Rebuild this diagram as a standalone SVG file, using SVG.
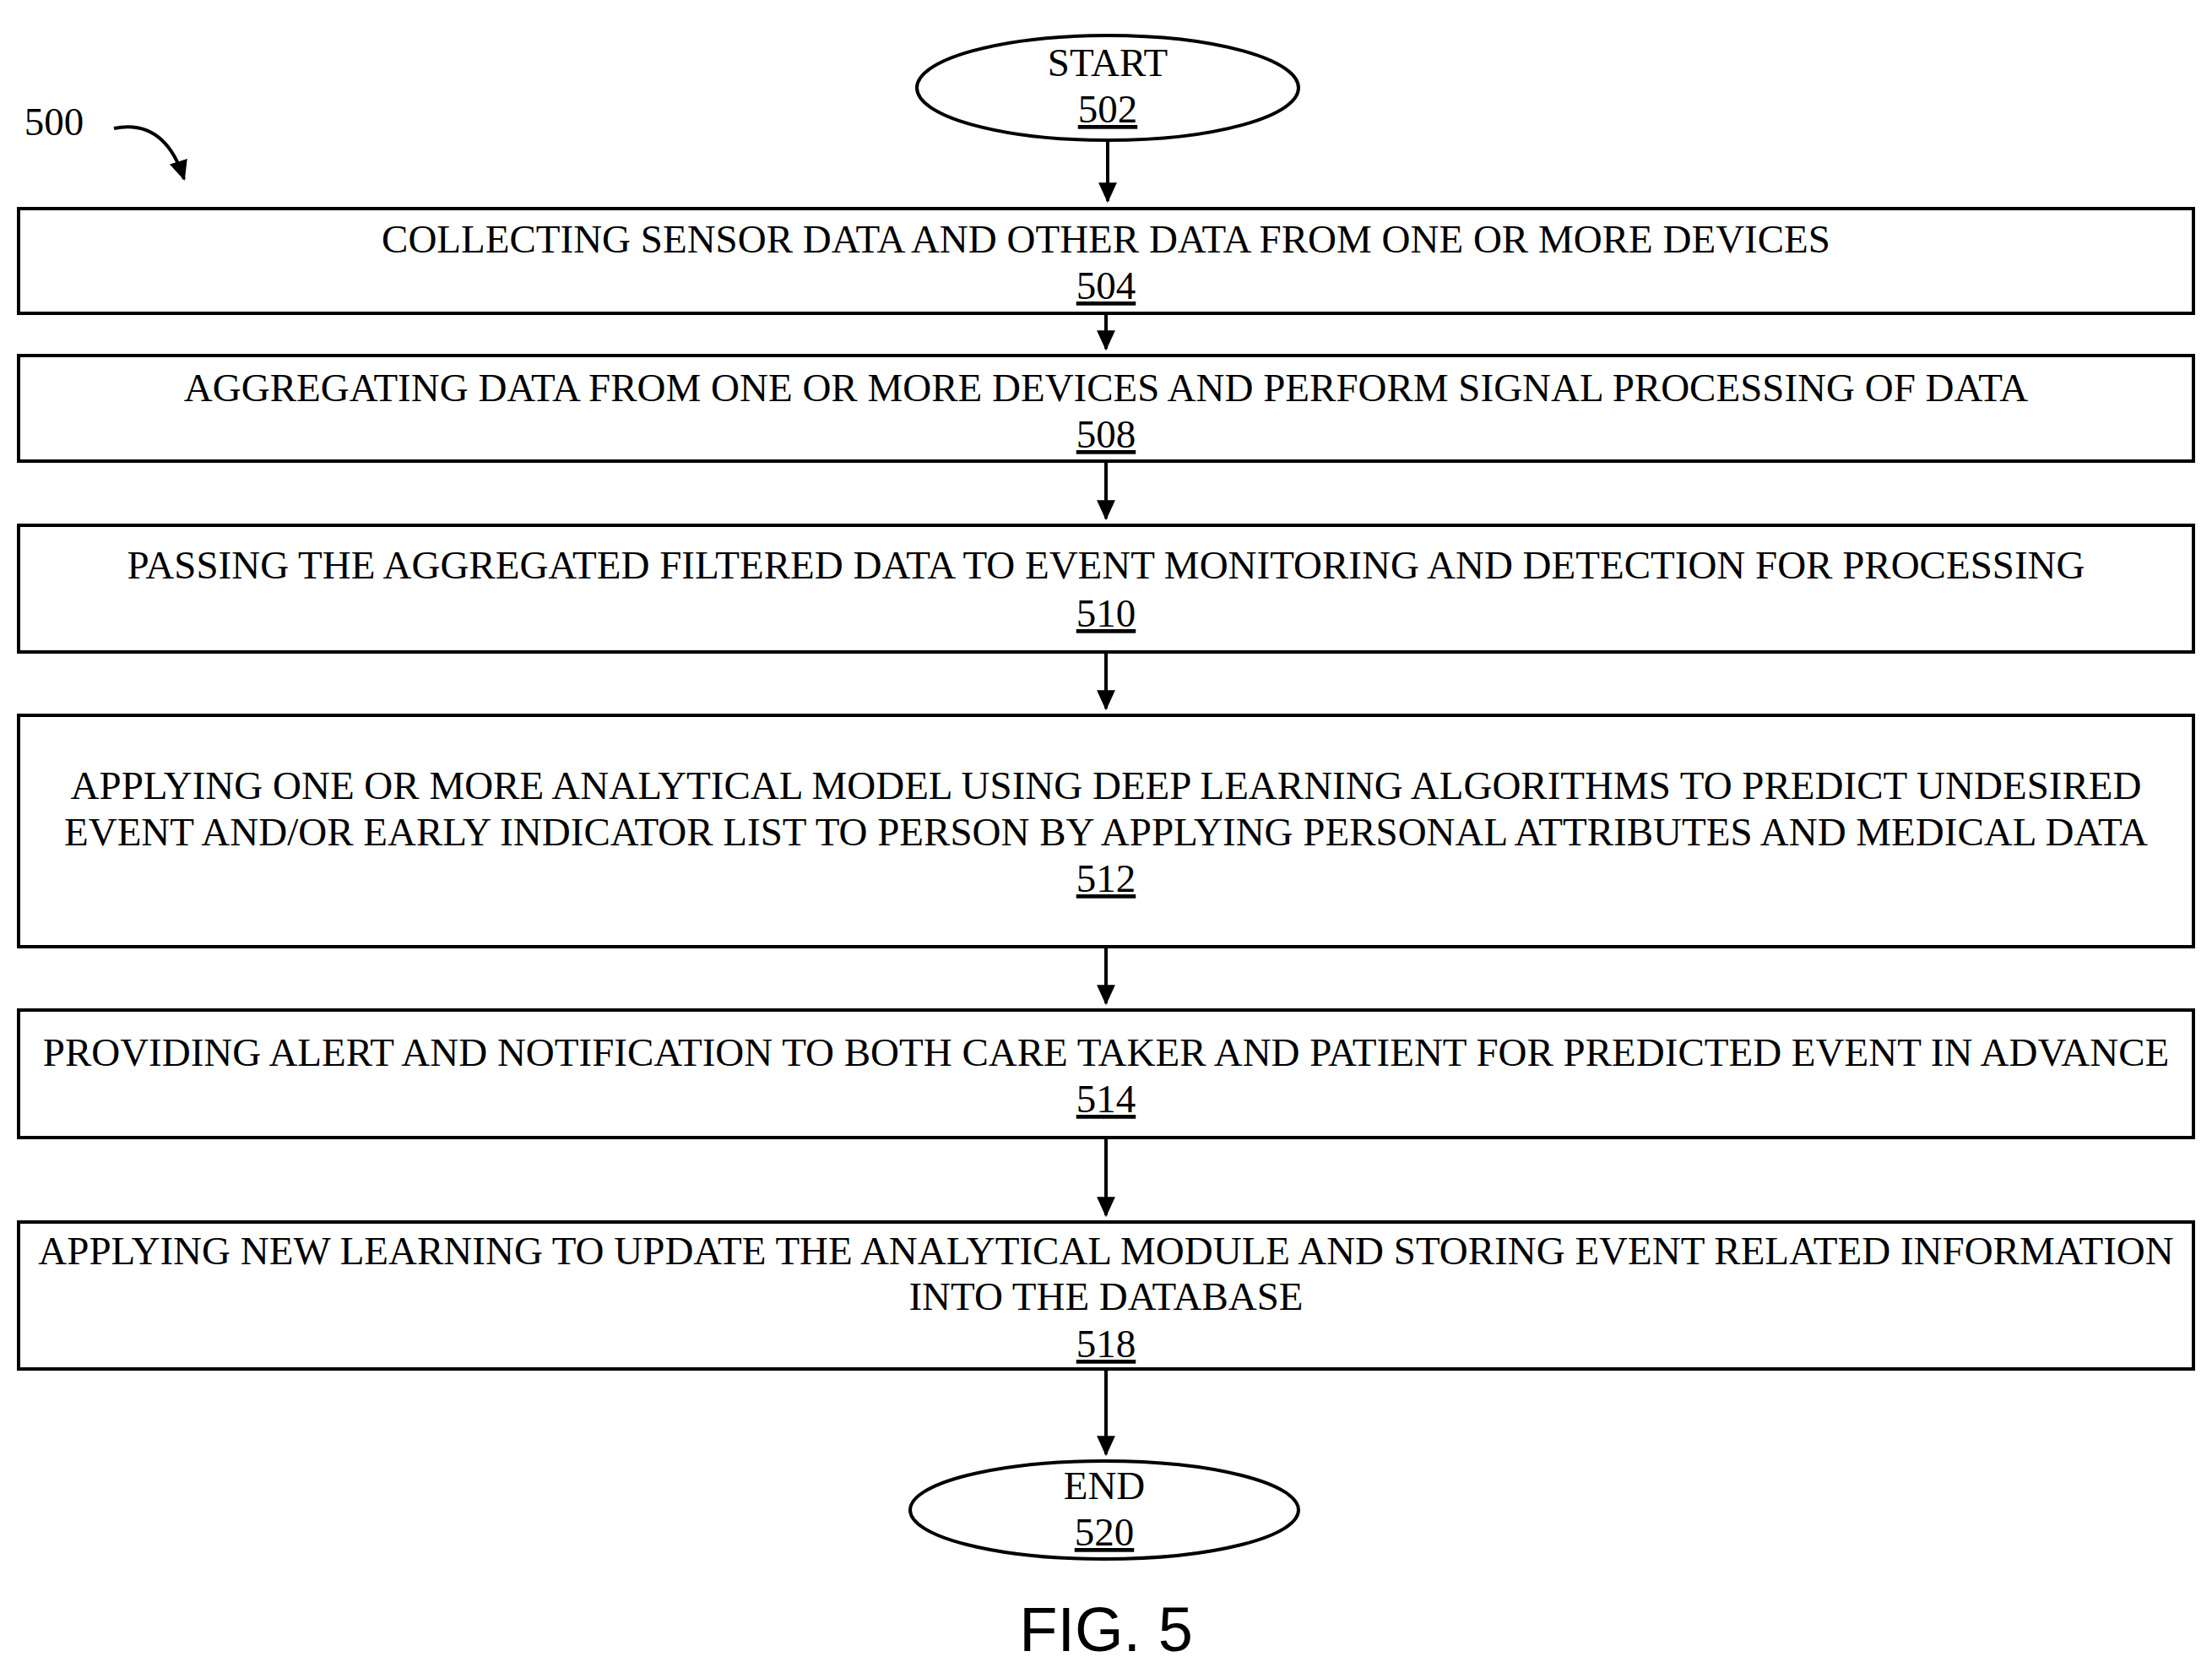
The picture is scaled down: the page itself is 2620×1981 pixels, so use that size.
<svg xmlns="http://www.w3.org/2000/svg" width="2620" height="1981" viewBox="0 0 2620 1981">
<style>
.b{fill:#fff;stroke:#000;stroke-width:4}
.t{font-family:"Liberation Serif",serif;font-size:47px;text-anchor:middle;fill:#000}
.n{text-decoration:underline}
.c{stroke:#000;stroke-width:4;fill:none}
</style>
<defs><marker id="m2" markerWidth="24" markerHeight="24" refX="20" refY="10" orient="auto" markerUnits="userSpaceOnUse" viewBox="0 0 22 20"><path d="M0,0L22,10L0,20z"/></marker></defs>
<rect width="2620" height="1981" fill="#fff"/>
<g id="label500"><text class="t" x="64" y="160">500</text><path class="c" d="M135,152 Q195,140 218,212" marker-end="url(#m2)"/></g>
<g id="connectors">
<path class="c" d="M1312,166V238" marker-end="url(#m2)"/>
<path class="c" d="M1310,371V413" marker-end="url(#m2)"/>
<path class="c" d="M1310,546V614" marker-end="url(#m2)"/>
<path class="c" d="M1310,772V839" marker-end="url(#m2)"/>
<path class="c" d="M1310,1121V1188" marker-end="url(#m2)"/>
<path class="c" d="M1310,1347V1439" marker-end="url(#m2)"/>
<path class="c" d="M1310,1621V1722" marker-end="url(#m2)"/>
</g>
<g id="n502"><ellipse class="b" cx="1312" cy="104" rx="226" ry="62"/><text class="t" x="1312" y="90">START</text><text class="t n" x="1312" y="145">502</text></g>
<g id="n504"><rect class="b" x="22" y="247" width="2576" height="124"/><text class="t" x="1310" y="299">COLLECTING SENSOR DATA AND OTHER DATA FROM ONE OR MORE DEVICES</text><text class="t n" x="1310" y="354">504</text></g>
<g id="n508"><rect class="b" x="22" y="421" width="2576" height="125"/><text class="t" x="1310" y="475">AGGREGATING DATA FROM ONE OR MORE DEVICES AND PERFORM SIGNAL PROCESSING OF DATA</text><text class="t n" x="1310" y="530">508</text></g>
<g id="n510"><rect class="b" x="22" y="622" width="2576" height="150"/><text class="t" x="1310" y="685">PASSING THE AGGREGATED FILTERED DATA TO EVENT MONITORING AND DETECTION FOR PROCESSING</text><text class="t n" x="1310" y="742">510</text></g>
<g id="n512"><rect class="b" x="22" y="847" width="2576" height="274"/><text class="t" x="1310" y="946">APPLYING ONE OR MORE ANALYTICAL MODEL USING DEEP LEARNING ALGORITHMS TO PREDICT UNDESIRED</text><text class="t" x="1310" y="1001">EVENT AND/OR EARLY INDICATOR LIST TO PERSON BY APPLYING PERSONAL ATTRIBUTES AND MEDICAL DATA</text><text class="t n" x="1310" y="1056">512</text></g>
<g id="n514"><rect class="b" x="22" y="1196" width="2576" height="151"/><text class="t" x="1310" y="1262">PROVIDING ALERT AND NOTIFICATION TO BOTH CARE TAKER AND PATIENT FOR PREDICTED EVENT IN ADVANCE</text><text class="t n" x="1310" y="1317">514</text></g>
<g id="n518"><rect class="b" x="22" y="1447" width="2576" height="174"/><text class="t" x="1310" y="1497">APPLYING NEW LEARNING TO UPDATE THE ANALYTICAL MODULE AND STORING EVENT RELATED INFORMATION</text><text class="t" x="1310" y="1551">INTO THE DATABASE</text><text class="t n" x="1310" y="1607">518</text></g>
<g id="n520"><ellipse class="b" cx="1308" cy="1788" rx="230" ry="58"/><text class="t" x="1308" y="1775">END</text><text class="t n" x="1308" y="1830">520</text></g>
<text x="1310" y="1955" style="font-family:'Liberation Sans',sans-serif;font-size:74px;text-anchor:middle">FIG. 5</text>
</svg>
